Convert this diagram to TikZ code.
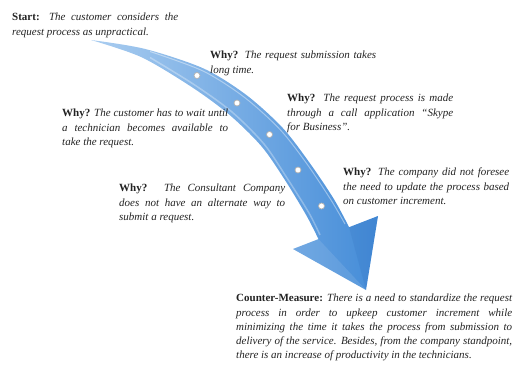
\documentclass[tikz,border=0pt]{standalone}
\usepackage{fontspec}
\setmainfont{Liberation Serif}
\usepackage{tikz}
\definecolor{arrowblue}{RGB}{68,140,216}
\definecolor{arrowlight}{RGB}{170,205,240}
\definecolor{arrowdark}{RGB}{40,100,178}
\definecolor{whytext}{RGB}{35,35,35}
\hyphenpenalty=10000
\newcommand\whyfont{\fontsize{11}{14.2}\selectfont
    \spaceskip=0.25em plus 0.4em minus 0.1em\relax}
\tikzstyle{why} = [anchor=north west, inner sep=0pt, text width=166pt,
    align=justify, text=whytext, font=\whyfont]
\tikzstyle{bead} = [circle, inner sep=0pt, minimum size=6pt,
    fill=white, draw=gray!60, line width=0.7pt]

\begin{document}
\begin{tikzpicture}[x=1pt, y=-1pt]
    \useasboundingbox (0,0) rectangle (517,365);
        % Arrow
    \shade[left color=arrowlight, middle color=arrowblue, right color=arrowblue]
        plot[smooth, tension=0.5] coordinates {(91,40) (144.5,48.8) (203.4,68.4)
            (246.1,94.8) (282.5,127.7) (309.4,162.5) (333.8,198.9) (349.1,227.2)}
        -- (378,216) -- (366,290) -- (293,249)
        -- plot[smooth, tension=0.5] coordinates {(318.5,239.1) (306.2,215.1)
            (284.6,179.5) (261.5,146.3) (229.9,115.2) (192.6,87.6) (141.5,57.2) (91,40)}
        -- cycle;
    \fill[white, opacity=0.1] (293,249) -- (318.5,239.1) -- (366,290) -- cycle;
    \fill[arrowdark, opacity=0.15] (349.1,227.2) -- (378,216) -- (366,290) -- cycle;
    \draw[white, opacity=0.4, line width=1pt]
        plot[smooth, tension=0.5] coordinates {(150,51.5) (203,71) (244,97)
            (280,129.5) (307,164) (331,200) (345,224)};
    \draw[white, opacity=0.3, line width=1.5pt]
        plot[smooth, tension=0.5] coordinates {(150,57.5) (194,84.5) (232,112)
            (264,144) (287,178) (309,213) (320,235)};
        % Nodes
    \node[bead] (d1) at (197,75.5) {};
    \node[bead] (d2) at (237,103) {};
    \node[bead] (d3) at (269.5,134.5) {};
    \node[bead] (d4) at (298,170) {};
    \node[bead] (d5) at (321.5,206) {};
    \node[why] (start) at (12,13) {\textbf{Start:} \textit{The customer considers the\linebreak request process as unpractical.}};
    \node[why] (why1) at (210,51) {\textbf{Why?} \textit{The request submission takes\linebreak long time.}};
    \node[why] (why2) at (62,109) {\textbf{Why?} \textit{The customer has to wait until\linebreak a technician becomes available to\linebreak take the request.}};
    \node[why] (why3) at (287,94) {\textbf{Why?} \textit{The request process is made\linebreak through a call application “Skype\linebreak for Business”.}};
    \node[why] (why4) at (343,168) {\textbf{Why?} \textit{The company did not foresee\linebreak the need to update the process based\linebreak on customer increment.}};
    \node[why] (why5) at (119,184) {\textbf{Why?} \textit{The Consultant Company\linebreak does not have an alternate way to\linebreak submit a request.}};
    \node[why, text width=276pt] (counter) at (236,294) {\textbf{Counter-Measure:} \textit{There is a need to standardize the request\linebreak process in order to upkeep customer increment while\linebreak minimizing the time it takes the process from submission to\linebreak delivery of the service. Besides, from the company standpoint,\linebreak there is an increase of productivity in the technicians.}};
\end{tikzpicture}
\end{document}
